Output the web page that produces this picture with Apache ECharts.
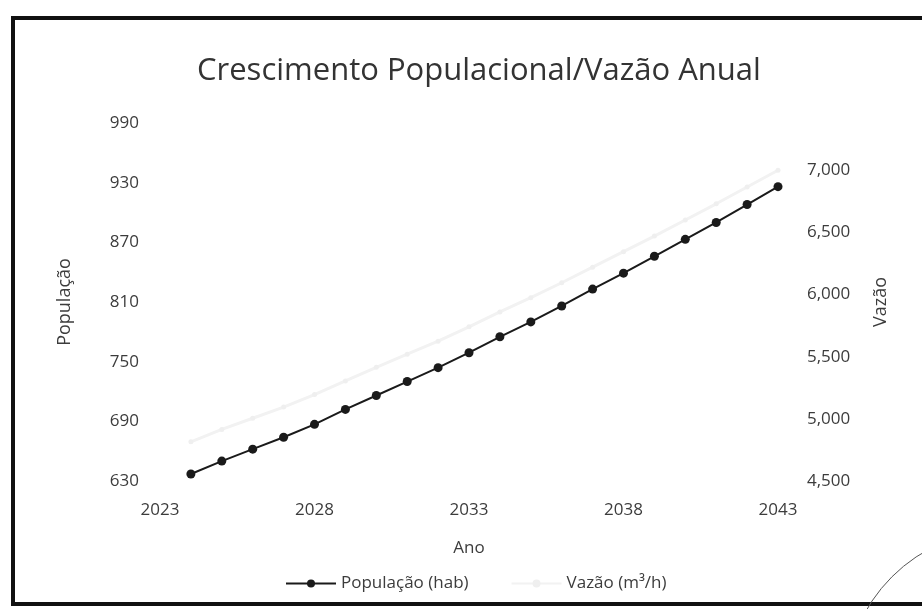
<!DOCTYPE html>
<html>
<head>
<meta charset="utf-8">
<script src="https://cdn.jsdelivr.net/npm/echarts@6/dist/echarts.min.js"></script>
<style>
html,body{margin:0;padding:0;background:#fff;}
#chart{width:922px;height:609px;}
</style>
</head>
<body>
<div id="chart"></div>
<script>
var years = [2024,2025,2026,2027,2028,2029,2030,2031,2032,2033,2034,2035,2036,2037,2038,2039,2040,2041,2042,2043];
var populacao = [637,650,662,674,687,702,716,730,744,759,775,790,806,823,839,856,873,890,908,926];
var vazao = [4815,4915,5005,5095,5195,5305,5415,5520,5625,5740,5860,5975,6095,6220,6345,6470,6600,6730,6865,7000];
var titleText = 'Crescimento Populacional/Vazão Anual';
var seriesNames = ['População (hab)', 'Vazão (m³/h)'];

var popData = years.map(function(y,i){return [y, populacao[i]];});
var vazData = years.map(function(y,i){return [y, vazao[i]];});

var font = 'Open Sans';
var txt = '#3c3c3c';
var chart = echarts.init(document.getElementById('chart'));
chart.setOption({
  backgroundColor: '#fff',
  animation: false,
  title: {
    text: titleText,
    left: 192,
    top: 51,
    textStyle: {fontFamily: font, fontSize: 31, fontWeight: 'normal', color: '#333'}
  },
  legend: {
    left: 280,
    top: 570,
    itemWidth: 50,
    itemHeight: 10,
    itemGap: 42,
    textStyle: {fontFamily: font, fontSize: 17, color: txt},
    data: seriesNames
  },
  grid: {left: 160, right: 144, top: 123, bottom: 128},
  graphic: [{
    type: 'rect',
    shape: {x: 13, y: 18, width: 940, height: 586},
    style: {fill: 'none', stroke: '#111', lineWidth: 4},
    silent: true
  },{
    type: 'arc',
    shape: {cx: 1005, cy: 690, r: 160, startAngle: Math.PI * 1.0, endAngle: Math.PI * 1.5},
    style: {fill: 'none', stroke: '#555', lineWidth: 1},
    silent: true
  }],
  xAxis: {
    type: 'value',
    min: 2023, max: 2043, interval: 5,
    name: 'Ano',
    nameLocation: 'middle',
    nameGap: 59,
    nameTextStyle: {fontFamily: font, fontSize: 17, color: txt},
    axisLine: {show: false},
    axisTick: {show: false},
    splitLine: {show: false},
    axisLabel: {fontFamily: font, fontSize: 17, color: txt, margin: 21,
      formatter: function(v){ return String(v); }}
  },
  yAxis: [{
    type: 'value',
    min: 630, max: 990, interval: 60,
    name: 'População',
    nameLocation: 'middle',
    nameRotate: 90,
    nameGap: 86,
    nameTextStyle: {fontFamily: font, fontSize: 18, color: txt},
    axisLine: {show: false},
    axisTick: {show: false},
    splitLine: {show: false},
    axisLabel: {fontFamily: font, fontSize: 17, color: txt, margin: 21}
  },{
    type: 'value',
    min: 4500, max: 7380, interval: 500,
    position: 'right',
    name: 'Vazão',
    nameLocation: 'middle',
    nameRotate: 90,
    nameGap: 94,
    nameTextStyle: {fontFamily: font, fontSize: 18, color: txt},
    axisLine: {show: false},
    axisTick: {show: false},
    splitLine: {show: false},
    axisLabel: {
      fontFamily: font, fontSize: 17, color: txt, margin: 29,
      formatter: function(v){ return (v % 500 === 0) ? v.toLocaleString('en-US') : ''; }
    }
  }],
  series: [{
    name: seriesNames[1],
    type: 'line',
    yAxisIndex: 1,
    data: vazData,
    symbol: 'circle',
    symbolSize: 5,
    lineStyle: {color: '#f2f2f2', width: 3},
    itemStyle: {color: '#efefef'},
    z: 1
  },{
    name: seriesNames[0],
    type: 'line',
    yAxisIndex: 0,
    data: popData,
    symbol: 'circle',
    symbolSize: 9,
    lineStyle: {color: '#1a1a1a', width: 2},
    itemStyle: {color: '#1a1a1a'},
    z: 3
  }]
});
</script>
</body>
</html>
